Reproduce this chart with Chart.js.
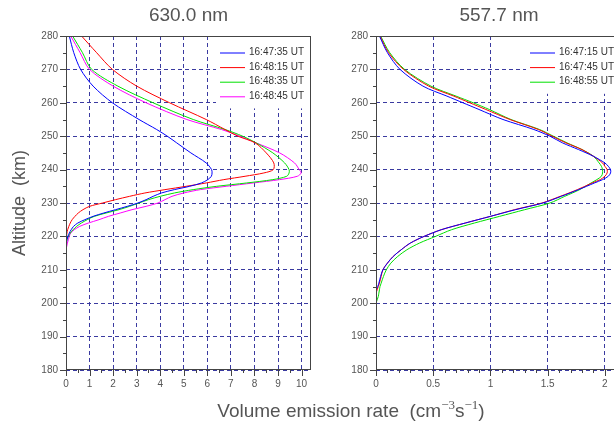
<!DOCTYPE html>
<html>
<head>
<meta charset="utf-8">
<script src="https://cdn.jsdelivr.net/npm/chart.js@4/dist/chart.umd.min.js"></script>
<style>
  html, body { margin: 0; padding: 0; background: #fff; overflow: hidden; }
  body { width: 614px; height: 427px; position: relative; font-family: "Liberation Sans", Arial, sans-serif; }
  .box { position: absolute; top: 0; height: 427px; }
  #xtitle { position: absolute; left: 151px; width: 400px; top: 401px; text-align: center;
            font-size: 19px; line-height: 19px; color: #555; white-space: nowrap; }
  #xtitle sup { font-family: "Liberation Serif", serif; font-size: 13px; line-height: 0; vertical-align: 0.6em; }
</style>
</head>
<body>
<div class="box" style="left:0; width:320px"><canvas id="c630"></canvas></div>
<div class="box" style="left:310px; width:320px"><canvas id="c557"></canvas></div>
<div id="xtitle">Volume emission rate&nbsp;&nbsp;(cm<sup>−3</sup>s<sup>−1</sup>)</div>
<script>
// 630.0 nm profiles (altitude km -> emission rate)
const alt630 = [216, 217, 218, 219, 220, 221, 222, 223, 224, 225, 226, 227, 228, 229, 230,
                231, 232, 233, 234, 235, 236, 237, 238, 239, 240, 242, 245, 248, 250, 252,
                255, 260, 265, 270, 275, 280];
const t1_630 = [null, 0.0, 0.02, 0.04, 0.08, 0.14, 0.22, 0.32, 0.5, 0.8, 1.15, 1.6, 2.1, 2.6, 3.05,
                3.4, 3.7, 4.05, 4.6, 5.25, 5.75, 6.02, 6.17, 6.2, 6.18, 5.95, 5.3, 4.7, 4.3, 3.85,
                3.1, 1.97, 1.15, 0.62, 0.33, 0.14];
const t2_630 = [null, null, null, 0.0, 0.02, 0.04, 0.07, 0.12, 0.18, 0.26, 0.38, 0.52, 0.72, 1.0, 1.55,
                2.1, 2.7, 3.35, 4.2, 5.1, 5.95, 6.7, 7.6, 8.4, 8.8, 8.82, 8.5, 8.03, 7.3, 6.75,
                5.95, 4.4, 3.0, 1.97, 1.3, 0.66];
const t3_630 = [null, null, 0.0, 0.04, 0.1, 0.18, 0.3, 0.45, 0.65, 0.9, 1.2, 1.7, 2.25, 2.7, 3.1,
                3.5, 4.0, 4.6, 5.4, 6.4, 7.67, 8.78, 9.37, 9.47, 9.47, 9.28, 8.78, 8.07, 7.5, 6.75,
                5.4, 3.7, 2.2, 1.09, 0.7, 0.28];
const t4_630 = [0.0, 0.03, 0.06, 0.1, 0.14, 0.2, 0.35, 0.58, 0.95, 1.4, 1.8, 2.3, 2.8, 3.4, 3.9,
                4.2, 4.5, 5.0, 5.7, 6.8, 7.95, 9.07, 9.82, 9.98, 9.9, 9.7, 9.07, 8.07, 7.38, 6.6,
                5.13, 3.4, 2.0, 1.0, 0.6, 0.2];
const labels630 = ['16:47:35 UT', '16:48:15 UT', '16:48:35 UT', '16:48:45 UT'];

// 557.7 nm profiles
const alt557 = [200, 201, 202, 203, 204, 205, 206, 208, 210, 212, 214, 216, 218, 220, 222, 224, 226, 228, 230,
                232, 234, 236, 237, 238, 239, 240, 241, 242, 244, 246, 248, 250, 252,
                255, 258, 260, 262, 265, 270, 275, 280];
const t1_557 = [null, null, null, null, 0.0, 0.015, 0.025, 0.04, 0.06, 0.1, 0.15, 0.22, 0.3, 0.42, 0.57, 0.78, 1.0, 1.22, 1.46,
                1.62, 1.77, 1.91, 1.98, 2.03, 2.05, 2.05, 2.03, 2.0, 1.9, 1.77, 1.63, 1.52, 1.38,
                1.11, 0.9, 0.76, 0.62, 0.41, 0.21, 0.1, 0.03];
const t2_557 = [null, null, null, 0.0, 0.01, 0.02, 0.03, 0.045, 0.06, 0.1, 0.15, 0.22, 0.3, 0.42, 0.57, 0.78, 1.0, 1.21, 1.45,
                1.61, 1.76, 1.89, 1.96, 2.0, 2.02, 2.02, 2.0, 1.98, 1.9, 1.8, 1.66, 1.54, 1.42,
                1.17, 0.96, 0.82, 0.68, 0.46, 0.24, 0.11, 0.035];
const t3_557 = [0.0, 0.01, 0.02, 0.025, 0.03, 0.035, 0.045, 0.065, 0.09, 0.13, 0.19, 0.27, 0.38, 0.52, 0.66, 0.86, 1.08, 1.3, 1.52,
                1.65, 1.78, 1.88, 1.93, 1.97, 1.98, 1.98, 1.97, 1.95, 1.9, 1.8, 1.67, 1.55, 1.43,
                1.18, 0.99, 0.85, 0.7, 0.48, 0.25, 0.12, 0.04];
const labels557 = ['16:47:15 UT', '16:47:45 UT', '16:48:55 UT'];

const altTicks = [180, 190, 200, 210, 220, 230, 240, 250, 260, 270, 280];
const colors = ['#0000ff', '#ff0000', '#00e000', '#ff00ff'];

function toPoints(alts, vals) {
    return alts.map((a, i) => ({x: vals[i], y: a})).filter(p => p.x !== null);
}

function makeSets(alts, series, labels) {
    return series.map((s, i) => ({
        label: labels[i],
        data: toPoints(alts, s),
        borderColor: colors[i],
        borderWidth: 1,
        pointRadius: 0,
        tension: 0.3,
        fill: false
    }));
}

// box legend inside the plot, white background over the grid
const boxLegend = {
    id: 'boxLegend',
    afterDatasetsDraw(chart, args, opts) {
        const {ctx, chartArea: a} = chart;
        const sets = chart.data.datasets;
        const left = a.left + 150;
        ctx.save();
        ctx.fillStyle = '#fff';
        ctx.fillRect(left, a.top, a.right - left, 16 + sets.length * 14.6 - 2);
        ctx.font = '10px "Liberation Sans", Arial, sans-serif';
        ctx.textBaseline = 'middle';
        sets.forEach((d, i) => {
            const y = a.top + 16.5 + i * 14.6;
            ctx.strokeStyle = d.borderColor;
            ctx.lineWidth = 1;
            ctx.beginPath();
            ctx.moveTo(left + 4, y + 0.5);
            ctx.lineTo(left + 29, y + 0.5);
            ctx.stroke();
            ctx.fillStyle = '#333';
            ctx.fillText(d.label, left + 33, y);
        });
        ctx.restore();
    }
};

// frame plus major/minor tick marks
const frameTicks = {
    id: 'frameTicks',
    afterDraw(chart, args, opts) {
        const {ctx, chartArea: a, scales} = chart;
        const x = scales.x, y = scales.y;
        ctx.save();
        ctx.strokeStyle = '#444';
        ctx.lineWidth = 1;
        ctx.strokeRect(a.left + 0.5, a.top + 0.5, a.width - 1, a.height - 1);
        ctx.beginPath();
        for (let v = x.min; v <= x.max + 1e-9; v += opts.minorX) {
            const r = v / opts.majorX;
            const len = Math.abs(r - Math.round(r)) < 1e-6 ? 6 : 3;
            const px = Math.round(x.getPixelForValue(v)) + 0.5;
            ctx.moveTo(px, a.bottom);
            ctx.lineTo(px, a.bottom + len);
        }
        for (let v = y.min; v <= y.max + 1e-9; v += opts.minorY) {
            const r = v / opts.majorY;
            const len = Math.abs(r - Math.round(r)) < 1e-6 ? 6 : 3;
            const py = Math.round(y.getPixelForValue(v)) + 0.5;
            ctx.moveTo(a.left, py);
            ctx.lineTo(a.left - len, py);
        }
        ctx.stroke();
        ctx.restore();
    }
};

function makeChart(id, title, sets, xMax, xStep, xMinor, padRight, yTitle) {
    const grid = {color: '#3a3aa0', lineWidth: 1, tickLength: 6, tickColor: 'rgba(0,0,0,0)'};
    return new Chart(document.getElementById(id), {
        type: 'line',
        data: {datasets: sets},
        options: {
            responsive: true,
            maintainAspectRatio: false,
            animation: false,
            devicePixelRatio: 1,
            layout: {padding: {left: 0, right: padRight, top: 0, bottom: 0}},
            plugins: {
                legend: {display: false},
                tooltip: {enabled: false},
                title: {
                    display: true, text: title, fullSize: false, color: '#555',
                    font: {size: 19, family: '"Liberation Sans", Arial, sans-serif', weight: 'normal'},
                    padding: {top: 4, bottom: 9.2}
                },
                frameTicks: {minorX: xMinor, majorX: xStep, minorY: 5, majorY: 10}
            },
            scales: {
                x: {
                    type: 'linear', min: 0, max: xMax,
                    grid: grid,
                    border: {display: false, dash: [4, 3]},
                    ticks: {stepSize: xStep, includeBounds: false, padding: 2, color: '#555',
                            font: {size: 10, family: '"Liberation Sans", Arial, sans-serif'},
                            callback: v => String(Number(v.toFixed(2)))},
                    afterFit: s => { s.height = 57; }
                },
                y: {
                    type: 'linear', min: 180, max: 280,
                    afterBuildTicks: s => { s.ticks = altTicks.map(v => ({value: v})); },
                    grid: grid,
                    border: {display: false, dash: [4, 3]},
                    title: {display: !!yTitle, text: yTitle, color: '#555', padding: {top: 9, bottom: 0},
                            font: {size: 18, family: '"Liberation Sans", Arial, sans-serif'}},
                    ticks: {padding: 2, color: '#555',
                            font: {size: 10, family: '"Liberation Sans", Arial, sans-serif'}},
                    afterFit: s => { s.width = 66; }
                }
            }
        },
        plugins: [boxLegend, frameTicks]
    });
}

makeChart('c630', '630.0 nm', makeSets(alt630, [t1_630, t2_630, t3_630, t4_630], labels630),
          10.4, 1, 0.5, 9, 'Altitude  (km)');
makeChart('c557', '557.7 nm', makeSets(alt557, [t1_557, t2_557, t3_557], labels557),
          2.15, 0.5, 0.1, 8, '');
</script>
</body>
</html>
